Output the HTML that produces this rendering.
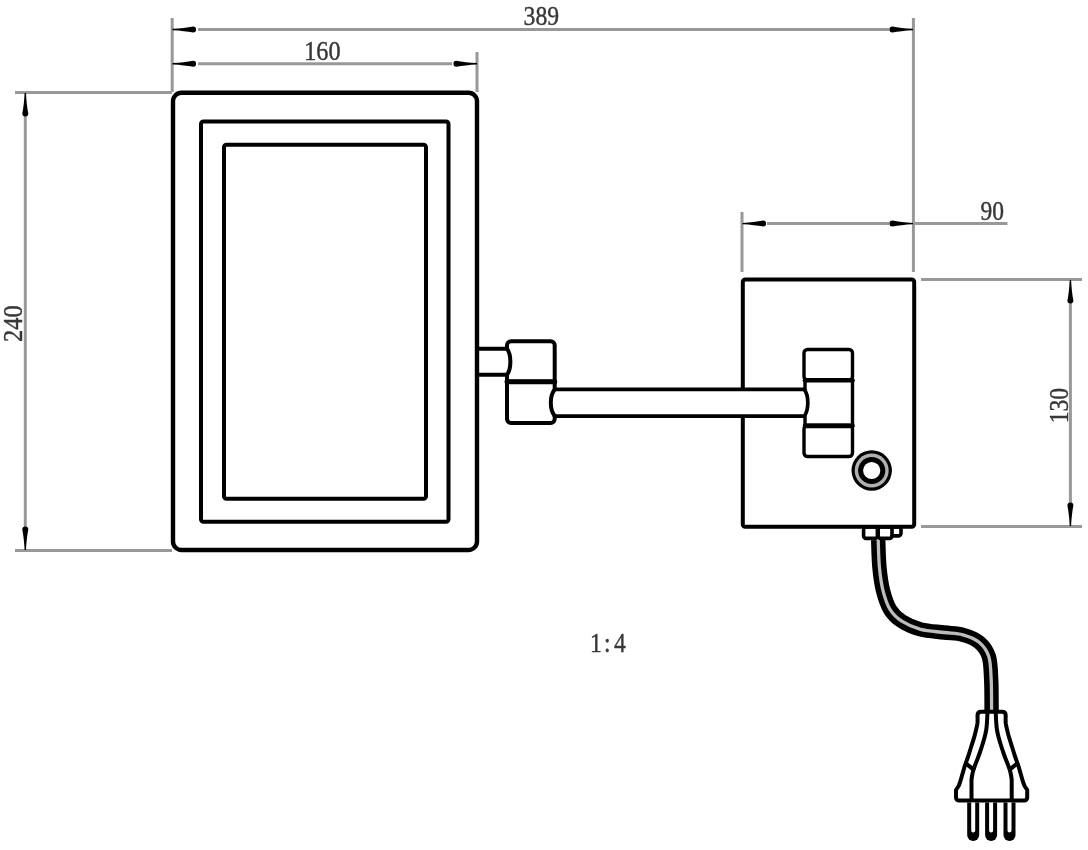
<!DOCTYPE html>
<html>
<head>
<meta charset="utf-8">
<title>Mirror drawing</title>
<style>
  html, body { margin: 0; padding: 0; background: #fff; }
  body { width: 1088px; height: 850px; overflow: hidden; font-family: "Liberation Serif", serif; }
  svg { display: block; filter: blur(0.45px); }
  .g { stroke: #989898; stroke-width: 3; fill: none; }
  .k { stroke: #000; stroke-width: 4; fill: none; stroke-linejoin: round; stroke-linecap: round; }
  .kp { stroke: #000; stroke-width: 4; fill: none; stroke-linejoin: round; stroke-linecap: round; }
  .kc { stroke: #000; stroke-width: 3.6; fill: none; stroke-linejoin: round; stroke-linecap: round; }
  .k3 { stroke: #000; stroke-width: 3.4; fill: none; stroke-linejoin: round; stroke-linecap: round; }
  text { font-family: "Liberation Serif", serif; font-size: 28px; fill: #383838; stroke: #383838; stroke-width: 0.45; }
</style>
</head>
<body>
<svg width="1088" height="850" viewBox="0 0 1088 850">
  <defs>
    <path id="arr" d="M0,-0.7 C8,-1.1 15,-1.9 20.6,-3 A3,3 0 0 1 20.6,3 C15,1.9 8,1.1 0,0.7 Z" fill="#000"/>
  </defs>
  <rect x="0" y="0" width="1088" height="850" fill="#fff"/>

  <!-- dimension / extension lines (gray) -->
  <g class="g">
    <!-- 389 -->
    <line x1="198" y1="29.5" x2="889" y2="29.5"/>
    <line x1="172.2" y1="18" x2="172.2" y2="92"/>
    <line x1="913.4" y1="18" x2="913.4" y2="272"/>
    <!-- 160 -->
    <line x1="198" y1="63.7" x2="452" y2="63.7"/>
    <line x1="477" y1="52" x2="477" y2="92"/>
    <!-- 240 -->
    <line x1="15" y1="92.6" x2="172" y2="92.6"/>
    <line x1="15" y1="550.6" x2="172" y2="550.6"/>
    <line x1="25.3" y1="116" x2="25.3" y2="527"/>
    <!-- 90 -->
    <line x1="742" y1="212" x2="742" y2="272"/>
    <line x1="767" y1="223.6" x2="889" y2="223.6"/>
    <line x1="913.4" y1="223.6" x2="1007.5" y2="223.6"/>
    <!-- 130 -->
    <line x1="921" y1="279.6" x2="1082" y2="279.6"/>
    <line x1="921" y1="526.6" x2="1082" y2="526.6"/>
    <line x1="1070.4" y1="303" x2="1070.4" y2="503"/>
  </g>

  <!-- arrows -->
  <use href="#arr" transform="translate(172.5,29.5)"/>
  <use href="#arr" transform="translate(913,29.5) rotate(180)"/>
  <use href="#arr" transform="translate(172.5,63.7)"/>
  <use href="#arr" transform="translate(477,63.7) rotate(180)"/>
  <use href="#arr" transform="translate(25.3,93) rotate(90)"/>
  <use href="#arr" transform="translate(25.3,550) rotate(-90)"/>
  <use href="#arr" transform="translate(742.5,223.6)"/>
  <use href="#arr" transform="translate(913,223.6) rotate(180)"/>
  <use href="#arr" transform="translate(1070.4,280) rotate(90)"/>
  <use href="#arr" transform="translate(1070.4,526) rotate(-90)"/>

  <!-- text -->
  <text x="523.6" y="25.2" textLength="35.5" lengthAdjust="spacingAndGlyphs">389</text>
  <text x="304.2" y="59.6" textLength="36.3" lengthAdjust="spacingAndGlyphs">160</text>
  <text x="980.5" y="220" textLength="23.5" lengthAdjust="spacingAndGlyphs">90</text>
  <text transform="translate(590,651.6) scale(0.84,1)">1</text>
  <text transform="translate(603.9,651.6) scale(0.84,1)">:</text>
  <text transform="translate(614,651.6) scale(0.84,1)">4</text>
  <text transform="translate(22.3,342) rotate(-90)" textLength="36.7" lengthAdjust="spacingAndGlyphs">240</text>
  <text transform="translate(1067.5,423.3) rotate(-90)" textLength="35.4" lengthAdjust="spacingAndGlyphs">130</text>

  <!-- mirror -->
  <rect class="k" x="173" y="92.7" width="304" height="457.3" rx="8.5" ry="8.5" style="stroke-width:4.4"/>
  <rect class="k" x="201" y="121.5" width="247.5" height="400.2" rx="2.5" ry="2.5"/>
  <rect class="k" x="224" y="144.7" width="202" height="354" rx="2.5" ry="2.5"/>

  <!-- stub from mirror to left bracket -->
  <path class="k" d="M477,348.7 H507 M477,374.8 H507"/>
  <path class="k" d="M507,348.7 C511.5,355 511.5,368.5 507,374.8"/>
  <!-- left bracket -->
  <path class="k" d="M507,348.7 V345.3 A4,4 0 0 1 511,341.3 H550.7 A4,4 0 0 1 554.7,345.3 V381.7 H507 V374.8"/>
  <path class="k" d="M507,381.7 V418.9 A4,4 0 0 0 511,422.9 H550.7 A4,4 0 0 0 554.7,418.9 V416 M554.7,389.6 V381.7"/>
  <path class="k" d="M554.7,389.6 C549.5,396 549.5,409.5 554.7,416"/>
  <line class="k" style="stroke-width:5" x1="507" y1="381.7" x2="554.7" y2="381.7"/>

  <!-- wall box -->
  <rect class="k3" style="stroke-width:4" x="742.8" y="279.5" width="171.4" height="247.3" rx="2.5" ry="2.5"/>
  <!-- arm -->
  <rect x="700" y="389.4" width="104" height="26.8" fill="#fff" stroke="none"/>
  <path class="k" style="stroke-width:3.7" d="M554.7,389.4 H804.3 M554.7,416.2 H804.3"/>
  <path class="k" style="stroke-width:3.7" d="M804.3,389.4 C809,396 809,409.5 804.3,416.2"/>
  <!-- right bracket -->
  <rect class="k3" x="804" y="349.5" width="48.5" height="30.5" rx="3.5" ry="3.5"/>
  <path class="k3" d="M805,380 V389.8 M805,416 V425.5 M805,380 H852.5 V425.5 H805"/>
  <rect class="k3" x="804" y="425.5" width="48.5" height="31" rx="3.5" ry="3.5"/>
  <line class="k" style="stroke-width:4.6" x1="805" y1="380.3" x2="852.5" y2="380.3"/>
  <line class="k" style="stroke-width:4.6" x1="805" y1="425.9" x2="852.5" y2="425.9"/>

  <!-- button -->
  <circle cx="871.7" cy="470.5" r="20.2" fill="#000"/>
  <circle cx="871.7" cy="470.5" r="17" fill="#b0b0b0"/>
  <circle cx="871.7" cy="470.5" r="13.6" fill="#000"/>
  <circle cx="871.7" cy="470.5" r="8.6" fill="#fff"/>

  <!-- cable connectors -->
  <rect class="kc" x="863.6" y="527" width="13.8" height="11.4" rx="2.5" ry="2.5" fill="#fff"/>
  <rect class="kc" x="878.2" y="527" width="13.8" height="11.4" rx="2.5" ry="2.5" fill="#fff"/>
  <path class="kc" d="M892,527 H901 V533.2 A2.7,2.7 0 0 1 898.3,535.9 H892"/>

  <!-- cable -->
  <path d="M878.2,540.0 C878.4,544.5 878.6,558.6 879.4,567.0 C880.2,575.4 881.2,583.5 883.0,590.6 C884.8,597.7 886.9,604.3 890.0,609.4 C893.1,614.5 896.7,617.9 901.8,621.2 C906.9,624.5 913.5,627.5 920.6,629.4 C927.7,631.3 937.1,631.6 944.1,632.5 C951.1,633.4 957.0,633.1 962.9,634.8 C968.8,636.4 975.1,638.8 979.4,642.4 C983.7,646.0 986.8,650.2 988.8,656.5 C990.8,662.8 990.7,670.8 991.2,680.0 C991.7,689.2 991.5,706.7 991.6,712.0" fill="none" stroke="#000" stroke-width="14.4"/>
  <path d="M878.2,540.0 C878.4,544.5 878.6,558.6 879.4,567.0 C880.2,575.4 881.2,583.5 883.0,590.6 C884.8,597.7 886.9,604.3 890.0,609.4 C893.1,614.5 896.7,617.9 901.8,621.2 C906.9,624.5 913.5,627.5 920.6,629.4 C927.7,631.3 937.1,631.6 944.1,632.5 C951.1,633.4 957.0,633.1 962.9,634.8 C968.8,636.4 975.1,638.8 979.4,642.4 C983.7,646.0 986.8,650.2 988.8,656.5 C990.8,662.8 990.7,670.8 991.2,680.0 C991.7,689.2 991.5,706.7 991.6,712.0" fill="none" stroke="#bcbcbc" stroke-width="3.3"/>

  <!-- plug -->
  <path class="kp" fill="#fff" d="M981,711.8 H1002.2 Q1005.7,711.8 1005.7,715.4 C1005.7,717.2 1005.4,720.3 1005.8,723.5 C1006.3,726.7 1007.4,731.1 1008.4,735.0 C1009.5,738.9 1011.0,743.5 1012.1,747.0 C1013.2,750.5 1013.9,753.0 1014.9,756.0 C1015.9,759.0 1017.0,761.8 1018.0,764.7 C1019.0,767.6 1019.7,770.5 1020.6,773.5 C1021.5,776.5 1022.5,780.3 1023.2,782.4 C1023.9,784.5 1024.4,785.4 1024.6,786.0 L1027.2,790 V797.6 A3,3 0 0 1 1024.2,800.6 H959 A3,3 0 0 1 956,797.6 V790 L958.6,786 C958.8,785.4 959.3,784.5 960.0,782.4 C960.7,780.3 961.7,776.5 962.6,773.5 C963.5,770.5 964.2,767.6 965.2,764.7 C966.2,761.8 967.3,759.0 968.3,756.0 C969.3,753.0 970.0,750.5 971.1,747.0 C972.2,743.5 973.8,738.9 974.8,735.0 C975.8,731.1 976.9,726.7 977.4,723.5 C977.8,720.3 977.5,717.2 977.5,715.4 Q977.5,711.8 981,711.8 Z"/>
  <path class="kp" d="M987.4,714.0 C987.3,715.3 987.2,719.4 987.0,722.0 C986.8,724.6 986.7,726.7 986.3,729.4 C985.9,732.1 985.2,735.1 984.4,738.0 C983.6,740.9 982.5,744.5 981.7,747.0 C980.9,749.5 980.4,751.0 979.7,753.0 C979.0,755.0 978.3,757.0 977.6,758.8 C976.9,760.5 976.3,761.9 975.7,763.5 C975.1,765.1 974.5,766.5 974.0,768.2 C973.5,770.0 972.8,772.0 972.4,774.0 C972.0,776.0 971.6,779.0 971.5,780.0 V800"/>
  <path class="kp" d="M995.8,714.0 C995.9,715.3 996.0,719.4 996.2,722.0 C996.4,724.6 996.5,726.7 996.9,729.4 C997.3,732.1 998.0,735.1 998.8,738.0 C999.6,740.9 1000.7,744.5 1001.5,747.0 C1002.3,749.5 1002.8,751.0 1003.5,753.0 C1004.2,755.0 1004.9,757.0 1005.6,758.8 C1006.3,760.5 1006.9,761.9 1007.5,763.5 C1008.1,765.1 1008.7,766.5 1009.2,768.2 C1009.8,770.0 1010.4,772.0 1010.8,774.0 C1011.2,776.0 1011.6,779.0 1011.7,780.0 V800"/>
  <path class="kp" d="M966.8,764.1 L973.2,769.4 M1016.4,764.1 L1010,769.4"/>
  <!-- pins -->
  <g transform="translate(973.2,802.6)">
    <path fill="#000" d="M-6,0 V32.5 A6,6 0 0 0 6,32.5 V0 Z"/>
    <path fill="#fff" d="M-2,0 V28 A2,2 0 0 0 2,28 V0 Z"/>
  </g>
  <g transform="translate(991.1,802.6)">
    <path fill="#000" d="M-6,0 V32.5 A6,6 0 0 0 6,32.5 V0 Z"/>
    <path fill="#fff" d="M-2,0 V28 A2,2 0 0 0 2,28 V0 Z"/>
  </g>
  <g transform="translate(1009.5,802.6)">
    <path fill="#000" d="M-6,0 V32.5 A6,6 0 0 0 6,32.5 V0 Z"/>
    <path fill="#fff" d="M-2,0 V28 A2,2 0 0 0 2,28 V0 Z"/>
  </g>
</svg>
</body>
</html>
